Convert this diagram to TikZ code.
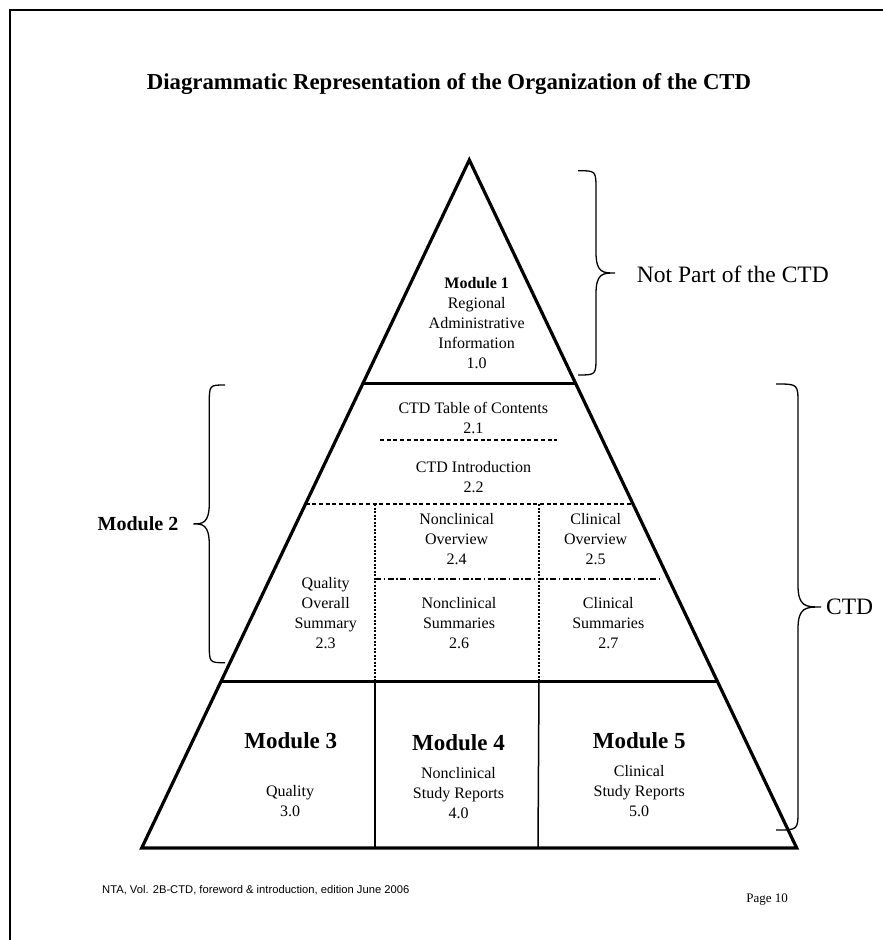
\documentclass[tikz,border=0pt]{standalone}
\usepackage{fontspec}
\setmainfont{Liberation Serif}
\newfontfamily\footfont{Liberation Sans}
\usetikzlibrary{calc}

\begin{document}
\begin{tikzpicture}[x=1pt,y=-1pt,
  every node/.style={inner sep=0pt, align=center},
  body/.style={font=\fontsize{16}{20}\selectfont},
  modhead/.style={font=\fontsize{23}{27}\selectfont\bfseries},
  side/.style={font=\fontsize{23.5}{27}\selectfont},
  outline/.style={line width=3.2pt, line join=miter},
  divider/.style={line width=3pt},
  cellrule/.style={line width=1.5pt},
  dashrule/.style={line width=1.2pt, dash pattern=on 4pt off 2.7pt},
  dotrule/.style={line width=1.2pt, dash pattern=on 2pt off 1.5pt},
  dashdotrule/.style={line width=1.2pt, dash pattern=on 6pt off 2.5pt on 1.5pt off 2.5pt},
  bracepath/.style={line width=1.3pt},
]
\useasboundingbox (0,0) rectangle (883,940);
\fill[white] (0,0) rectangle (883,940);
% page frame (top and left edges)
\draw[line width=2.5pt] (10,940) -- (10,10) -- (883,10);

% pyramid corners
\coordinate (apex) at (469.3,160);
\coordinate (bl) at (141.7,848);
\coordinate (br) at (796.7,848);

% points on the slanted sides
\coordinate (m1l) at ($(apex)!0.3249!(bl)$);
\coordinate (m1r) at ($(apex)!0.3249!(br)$);
\coordinate (midl) at ($(apex)!0.5!(bl)$);
\coordinate (midr) at ($(apex)!0.5!(br)$);
\coordinate (m3l) at ($(apex)!0.7587!(bl)$);
\coordinate (m3r) at ($(apex)!0.7587!(br)$);

% inner rules of module 2
\coordinate (tocl) at (380,440);
\coordinate (tocr) at (556.7,440);
\coordinate (v1t) at (375,504);
\coordinate (v2t) at (539,504);
\coordinate (v1m) at (375,682);
\coordinate (v2m) at (539,682);
\coordinate (ddl) at (375,579);
\coordinate (ddr) at (660,579);
\coordinate (v1b) at (375,848);
\coordinate (v2b) at (538,848);

\draw[outline] (apex) -- (br) -- (bl) -- cycle;
\draw[divider] (m1l) -- (m1r);
\draw[divider] (m3l) -- (m3r);
\draw[dashrule] (tocl) -- (tocr);
\draw[dashrule] (midl) -- (midr);
\draw[dotrule] (v1t) -- (v1m);
\draw[dotrule] (v2t) -- (v2m);
\draw[dashdotrule] (ddl) -- (ddr);
\draw[cellrule] (v1m) -- (v1b);
\draw[cellrule] (v2m) -- (v2b);

% title
\node[font=\fontsize{22.8}{26}\selectfont\bfseries] (title) at (449,84)
  {Diagrammatic Representation of the Organization of the CTD};

% module 1
\node[body] (mod1) at (476.7,323.3)
  {\textbf{Module 1}\\Regional\\Administrative\\Information\\1.0};

% module 2 sections
\node[body] (toc) at (473.3,417.7) {CTD Table of Contents\\2.1};
\node[body] (intro) at (473.5,477.2) {CTD Introduction\\2.2};
\node[body] (qos) at (325.7,612.8) {Quality\\Overall\\Summary\\2.3};
\node[body] (ncov) at (456.7,538.7) {Nonclinical\\Overview\\2.4};
\node[body] (clov) at (595.7,538.7) {Clinical\\Overview\\2.5};
\node[body] (ncsum) at (459,622.8) {Nonclinical\\Summaries\\2.6};
\node[body] (clsum) at (608.3,622.8) {Clinical\\Summaries\\2.7};

% modules 3 to 5
\node[modhead] (mod3) at (290.8,741) {Module 3};
\node[modhead] (mod4) at (458.5,742.7) {Module 4};
\node[modhead] (mod5) at (639.2,741) {Module 5};
\node[body] (qual) at (290,801.3) {Quality\\3.0};
\node[body] (ncsr) at (458.5,792.7) {Nonclinical\\Study Reports\\4.0};
\node[body] (clsr) at (639.2,791) {Clinical\\Study Reports\\5.0};

% side labels
\node[font=\fontsize{20}{24}\selectfont\bfseries] (mod2) at (138,523.5) {Module 2};
\node[side, anchor=west] (notctd) at (636.7,274) {Not Part of the CTD};
\node[side, anchor=west] (ctd) at (826,607) {CTD};

% braces
\draw[bracepath] (578,170.7) .. controls (596,170.7) .. (596,190)
  -- (596,252) .. controls (596,273) and (603,273) .. (615,273)
  .. controls (603,273) and (596,273) .. (596,294)
  -- (596,356) .. controls (596,375) .. (578,375);
\draw[bracepath] (776,384) .. controls (798,384) .. (798,404)
  -- (798,585) .. controls (798,607) and (806,607) .. (821,607)
  .. controls (806,607) and (798,607) .. (798,629)
  -- (798,810) .. controls (798,830) .. (776,830);
\draw[bracepath] (225,385) .. controls (209.3,385) .. (209.3,404)
  -- (209.3,503) .. controls (209.3,523.9) and (202,523.9) .. (193.3,523.9)
  .. controls (202,523.9) and (209.3,523.9) .. (209.3,545)
  -- (209.3,644) .. controls (209.3,662.7) .. (225,662.7);

% footer
\node[anchor=west, font=\footfont\fontsize{11.2}{13}\selectfont] (foot) at (102,890)
  {NTA, Vol. 2B-CTD, foreword \& introduction, edition June 2006};
\node[anchor=east, font=\fontsize{13}{15}\selectfont] (page) at (788,900) {Page 10};
\end{tikzpicture}
\end{document}
